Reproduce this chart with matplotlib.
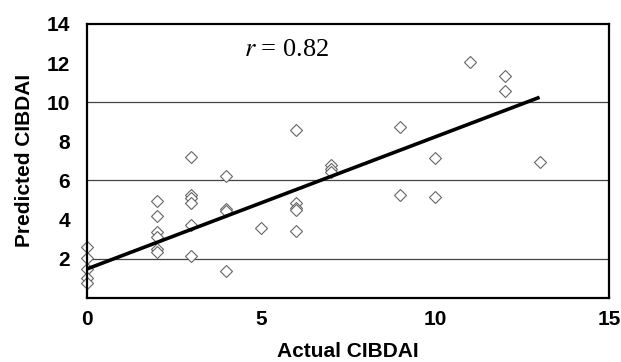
import numpy as np
import matplotlib.pyplot as plt

plt.rcParams['mathtext.fontset'] = 'stix'

# actual vs predicted CIBDAI
actual = [0, 0, 0, 0, 0,
          2, 2, 2, 2, 2, 2,
          3, 3, 3, 3, 3, 3,
          4, 4, 4, 4,
          5,
          6, 6, 6, 6, 6,
          7, 7, 7,
          9, 9,
          10, 10,
          11,
          12, 12,
          13]
predicted = [2.6, 2.04, 1.48, 1.02, 0.77,
             4.95, 4.18, 3.37, 3.11, 2.5, 2.35,
             7.2, 5.26, 5.1, 4.85, 3.72, 2.14,
             6.25, 4.54, 4.44, 1.38,
             3.57,
             8.57, 4.85, 4.6, 4.49, 3.42,
             6.79, 6.6, 6.43,
             8.74, 5.26,
             7.16, 5.16,
             12.05,
             11.33, 10.58,
             6.93]

# regression line end points
fit_x = [0, 13]
fit_y = [1.48, 10.25]

grid_y = [2, 6, 10]
x_ticks = [0, 5, 10, 15]
y_ticks = [2, 4, 6, 8, 10, 12, 14]

fig = plt.figure(figsize=(6.21, 3.62), dpi=100)
ax = fig.add_axes([0.140, 0.177, 0.841, 0.757])

for g in grid_y:
    ax.axhline(g, color='#444444', lw=0.9, zorder=1)

ax.plot(fit_x, fit_y, color='black', lw=2.6, solid_capstyle='butt', zorder=3)
ax.plot(actual, predicted, linestyle='none', marker='D', ms=6.0,
        mfc='white', mec='#666666', mew=0.8, zorder=2, clip_on=False)

ax.set_xlim(0, 15)
ax.set_ylim(0, 14)
ax.set_xticks(x_ticks)
ax.set_yticks(y_ticks)
ax.tick_params(axis='x', length=0, pad=9)
ax.tick_params(axis='y', length=0, pad=12)
for lab in ax.get_xticklabels() + ax.get_yticklabels():
    lab.set_fontfamily('Liberation Sans')
    lab.set_fontweight('bold')
    lab.set_fontsize(15)

for s in ax.spines.values():
    s.set_color('black')
    s.set_linewidth(1.6)

ax.set_xlabel('Actual CIBDAI', family='Liberation Sans', weight='bold',
              fontsize=15, labelpad=9)
ax.set_ylabel('Predicted CIBDAI', family='Liberation Sans', weight='bold',
              fontsize=15, labelpad=9)

ax.text(5.72, 12.65, r'$r$ = 0.82', family='Liberation Serif', fontsize=19,
        ha='center', va='center')

fig.savefig('out.png', dpi=100)
